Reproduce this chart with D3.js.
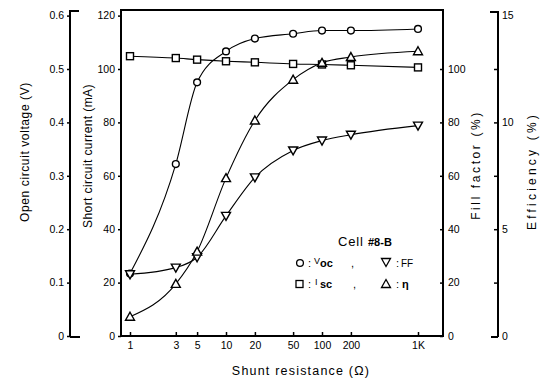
<!DOCTYPE html>
<html>
<head>
<meta charset="utf-8">
<script src="https://cdn.jsdelivr.net/npm/d3@7"></script>
<style>
  body { margin: 0; background: #fff; }
  svg { display: block; font-family: "Liberation Sans", "DejaVu Sans", sans-serif; }
</style>
</head>
<body>
<svg id="chart" width="557" height="385"></svg>
<script>
const resistances = [1, 3, 5, 10, 20, 50, 100, 200, 1000];
const vocValues = [0.117, 0.322, 0.475, 0.533, 0.557, 0.566, 0.572, 0.572, 0.575];
const iscValues = [104.8, 104.1, 103.5, 102.9, 102.5, 101.9, 101.7, 101.4, 100.6];
const ffValues = [23.1, 25.6, 29.5, 45.0, 59.4, 69.5, 73.2, 75.4, 78.8];
const effValues = [0.9, 2.44, 3.95, 7.39, 10.09, 12.0, 12.79, 13.06, 13.33];

const xTicks = [1, 3, 5, 10, 20, 50, 100, 200, 1000];
const xTickLabels = ["1", "3", "5", "10", "20", "50", "100", "200", "1K"];
const voltageTicks = [0, 0.1, 0.2, 0.3, 0.4, 0.5, 0.6];
const currentTicks = [0, 20, 40, 60, 80, 100, 120];
const ffTicks = [0, 20, 40, 60, 80, 100];
const effMinorTicks = [2.5, 7.5, 12.5];
const effTicks = [0, 5, 10, 15];

const box = { left: 121, right: 443, top: 10, bottom: 336 };
const vAxisX = 70;
const effAxisX = 498;

const svg = d3.select("#chart");

const x = d3.scaleLog().domain([1, 1000]).range([130, 418]);
const yCur = d3.scaleLinear().domain([0, 120]).range([336, 15.6]);
const yV = d3.scaleLinear().domain([0, 0.6]).range([336, 15.6]);
const yFF = d3.scaleLinear().domain([0, 120]).range([336, 15.6]);
const yEff = d3.scaleLinear().domain([0, 15]).range([336, 15.6]);

// frame of the main plot
svg.append("rect")
    .attr("x", box.left).attr("y", box.top)
    .attr("width", box.right - box.left).attr("height", box.bottom - box.top)
    .attr("fill", "none").attr("stroke", "#000").attr("stroke-width", 2);

function styleAxis(g) {
    g.select(".domain").remove();
    g.selectAll("line").attr("stroke", "#000").attr("stroke-width", 1.5);
    g.selectAll("text").attr("fill", "#000").style("font-size", "10.5px");
}

// voltage axis (far left)
svg.append("line").attr("x1", vAxisX).attr("x2", vAxisX).attr("y1", 10).attr("y2", 337)
    .attr("stroke", "#000").attr("stroke-width", 2);
svg.append("path").attr("d", `M${vAxisX},11H${vAxisX + 9}M${vAxisX},337H${vAxisX + 10}`)
    .attr("stroke", "#000").attr("stroke-width", 2);
svg.append("g")
    .attr("transform", `translate(${vAxisX},0)`)
    .call(d3.axisLeft(yV).tickValues(voltageTicks).tickSize(3).tickPadding(3)
        .tickFormat(d => d === 0 ? "0" : d.toFixed(1)))
    .call(styleAxis);

// current axis (left side of the box)
svg.append("g")
    .attr("transform", `translate(${box.left},0)`)
    .call(d3.axisLeft(yCur).tickValues(currentTicks).tickSize(3).tickPadding(3))
    .call(styleAxis);

// fill factor axis (right side of the box)
const ffAxis = svg.append("g")
    .attr("transform", `translate(${box.right},0)`)
    .call(d3.axisRight(yFF).tickValues(ffTicks).tickSize(-3).tickPadding(5))
    .call(styleAxis);
ffAxis.selectAll("text").attr("x", 5);

// efficiency axis
svg.append("line").attr("x1", effAxisX).attr("x2", effAxisX).attr("y1", 11).attr("y2", 337)
    .attr("stroke", "#000").attr("stroke-width", 2);
svg.append("path").attr("d", `M${effAxisX},12H${effAxisX - 8}M${effAxisX},337H${effAxisX - 7}`)
    .attr("stroke", "#000").attr("stroke-width", 2);
const effAxis = svg.append("g")
    .attr("transform", `translate(${effAxisX},0)`)
    .call(d3.axisRight(yEff).tickValues(effTicks.concat(effMinorTicks)).tickSize(-4)
        .tickFormat(d => effTicks.includes(d) ? d : ""))
    .call(styleAxis);
effAxis.selectAll("text").attr("x", 4);
effAxis.selectAll(".tick").filter(d => d === 0 || d === 15).select("line").remove();

// x axis
svg.append("g")
    .attr("transform", `translate(0,${box.bottom})`)
    .call(d3.axisBottom(x).tickValues(xTicks).tickSize(-4).tickPadding(6)
        .tickFormat((d, i) => xTickLabels[i]))
    .call(styleAxis);

// axis titles
const titles = [
    { text: "Open circuit voltage (V)", x: 25, y: 152, spacing: 0.6 },
    { text: "Short circuit current (mA)", x: 88, y: 156, spacing: 0.4 },
    { text: "Fill factor (%)", x: 476, y: 165, spacing: 2.6 },
    { text: "Efficiency (%)", x: 532, y: 171, spacing: 3.2 }
];
svg.selectAll(".ytitle")
    .data(titles)
    .join("text")
    .attr("class", "ytitle")
    .attr("transform", d => `translate(${d.x},${d.y}) rotate(-90)`)
    .attr("text-anchor", "middle")
    .attr("dy", "0.35em")
    .style("font-size", "12px")
    .style("letter-spacing", d => d.spacing + "px")
    .text(d => d.text);

svg.append("text")
    .attr("x", 301).attr("y", 375)
    .attr("text-anchor", "middle")
    .style("font-size", "12.5px")
    .style("letter-spacing", "1.2px")
    .text("Shunt resistance (Ω)");

// series
const series = [
    { name: "Voc", values: vocValues, y: yV, symbol: "circle" },
    { name: "Isc", values: iscValues, y: yCur, symbol: "square" },
    { name: "FF", values: ffValues, y: yFF, symbol: "down" },
    { name: "eff", values: effValues, y: yEff, symbol: "up" }
];

const line = d3.line().curve(d3.curveMonotoneX);

function drawMarker(g, type, cx, cy) {
    if (type === "circle") {
        g.append("circle").attr("cx", cx).attr("cy", cy).attr("r", 3.4);
    } else if (type === "square") {
        g.append("rect").attr("x", cx - 3.5).attr("y", cy - 3.5).attr("width", 7).attr("height", 7);
    } else {
        const s = type === "up" ? 1 : -1;
        g.append("path").attr("d", `M${cx},${cy - 4.5 * s}L${cx + 4.5},${cy + 3.5 * s}L${cx - 4.5},${cy + 3.5 * s}Z`);
    }
}

series.forEach(s => {
    const pts = resistances.map((r, i) => [x(r), s.y(s.values[i])]);
    svg.append("path")
        .attr("d", line(pts))
        .attr("fill", "none")
        .attr("stroke", "#000")
        .attr("stroke-width", 1.1);
});

series.forEach(s => {
    const g = svg.append("g").attr("fill", "#fff").attr("stroke", "#000").attr("stroke-width", 1.4);
    resistances.forEach((r, i) => drawMarker(g, s.symbol, x(r), s.y(s.values[i])));
});

// legend
const legend = svg.append("g");
legend.append("text").attr("x", 338).attr("y", 246).style("font-size", "13px")
    .style("letter-spacing", "0.8px").text("Cell");
legend.append("text").attr("x", 368).attr("y", 246).style("font-size", "11px")
    .style("font-weight", "bold").text("#8-B");

const mk = legend.append("g").attr("fill", "#fff").attr("stroke", "#000").attr("stroke-width", 1.3);
drawMarker(mk, "circle", 300, 263);
drawMarker(mk, "down", 386, 262);
drawMarker(mk, "square", 299.5, 284);
drawMarker(mk, "up", 386, 284);

const row1 = legend.append("text").attr("y", 267).style("font-size", "11px");
row1.append("tspan").attr("x", 308).text(":");
row1.append("tspan").attr("x", 314).attr("dy", -3).style("font-size", "9px").text("V");
row1.append("tspan").attr("dy", 3).style("font-weight", "bold").text("oc");
row1.append("tspan").attr("x", 351).text(",");
row1.append("tspan").attr("x", 396).text(":");
row1.append("tspan").attr("x", 401).style("font-size", "10px").text("FF");

const row2 = legend.append("text").attr("y", 288).style("font-size", "11px");
row2.append("tspan").attr("x", 308).text(":");
row2.append("tspan").attr("x", 315).attr("dy", -3).style("font-size", "9px").text("I");
row2.append("tspan").attr("x", 320).attr("dy", 3).style("font-weight", "bold").text("sc");
row2.append("tspan").attr("x", 353).text(",");
row2.append("tspan").attr("x", 396).text(":");
row2.append("tspan").attr("x", 402).style("font-weight", "bold").text("η");
</script>
</body>
</html>
